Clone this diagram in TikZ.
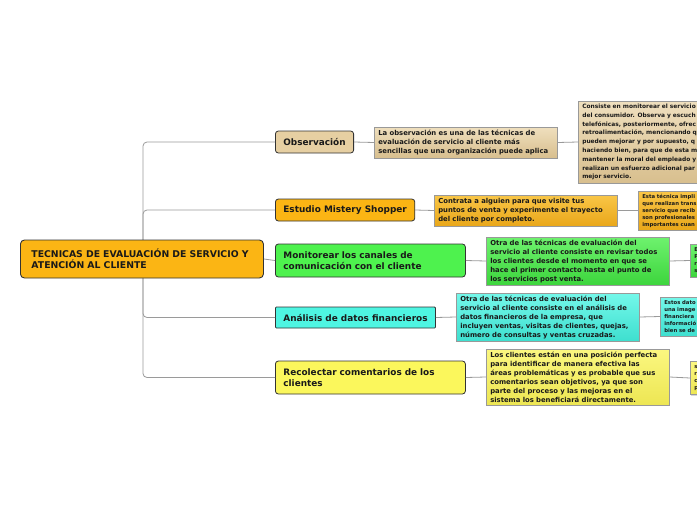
\documentclass[tikz,border=0pt]{standalone}
\usepackage{fontspec}
\setmainfont{DejaVu Sans}
\usetikzlibrary{shadows}
\definecolor{conn}{HTML}{9A9A9A}
\definecolor{tanmain}{HTML}{E6CFA2}
\definecolor{tantop}{HTML}{EFDFBE}
\definecolor{tanbot}{HTML}{D8BF8E}
\definecolor{orgmain}{HTML}{FBB514}
\definecolor{orgtop}{HTML}{F9C647}
\definecolor{orgbot}{HTML}{E9A71A}
\definecolor{grnmain}{HTML}{4EF24E}
\definecolor{grntop}{HTML}{6EF26E}
\definecolor{grnbot}{HTML}{3DD53D}
\definecolor{cynmain}{HTML}{4EF5E2}
\definecolor{cyntop}{HTML}{74F8EA}
\definecolor{cynbot}{HTML}{3EDFCF}
\definecolor{ylwmain}{HTML}{FBF75C}
\definecolor{ylwtop}{HTML}{FBF780}
\definecolor{ylwbot}{HTML}{EDE653}
\newcommand{\descfont}{\fontsize{6.85}{9}\selectfont\bfseries}
\newcommand{\bigfarfont}{\fontsize{5.9}{8.8}\selectfont\bfseries}
\newcommand{\farfont}{\fontsize{5.3}{7}\selectfont\bfseries}
\newcommand{\mainfont}{\fontsize{8.9}{11}\selectfont\bfseries}
\newcommand{\rootfont}{\fontsize{9.3}{11}\selectfont\bfseries}
\tikzset{
  link/.style={draw=conn, line width=0.8pt},
  mainbox/.style={draw=black!80, line width=0.8pt, rounded corners=3pt, font=\mainfont, anchor=west, inner xsep=8pt, inner ysep=2pt, text=black!90},
  descbox/.style={draw=black!40, line width=0.6pt, font=\descfont, anchor=west, align=left, inner xsep=4pt, inner ysep=1pt, minimum width=183pt, text width=175pt, text=black!90,
     drop shadow={shadow xshift=1pt, shadow yshift=-1.2pt, opacity=0.3}},
  farbox/.style={draw=black!40, line width=0.6pt, font=\farfont, anchor=west, align=left, inner xsep=4pt, inner ysep=1pt, text=black!90,
     drop shadow={shadow xshift=1pt, shadow yshift=-1.2pt, opacity=0.3}},
}
\begin{document}
\begin{tikzpicture}[x=1pt,y=-1pt]
\useasboundingbox (0,0) rectangle (697,520);
\clip (0,0) rectangle (697,520);
\fill[white] (0,0) rectangle (697,520);

% main nodes
\node[mainbox, fill=tanmain, minimum width=78pt, minimum height=22pt, align=center] (obs) at (275,142) {Observación};
\node[mainbox, fill=orgmain, minimum width=138pt, minimum height=22pt, align=center] (est) at (275,210) {Estudio Mistery Shopper};
\node[mainbox, fill=grnmain, minimum width=190pt, minimum height=33pt, text width=174pt, align=left] (mon) at (275,260.5) {Monitorear los canales de\\comunicación con el cliente};
\node[mainbox, fill=cynmain, rounded corners=1pt, minimum width=160pt, minimum height=21pt, align=center] (ana) at (275,317.5) {Análisis de datos financieros};
\node[mainbox, fill=ylwmain, minimum width=190pt, minimum height=33pt, text width=174pt, align=left] (rec) at (275,377.5) {Recolectar comentarios de los\\clientes};

\coordinate (trunk) at (143,259);
\draw[link, rounded corners=4pt] (obs.west) -| (trunk);
\draw[link, rounded corners=4pt] (est.west) -| (trunk);
\draw[link, rounded corners=4pt] (ana.west) -| (trunk);
\draw[link, rounded corners=4pt] (rec.west) -| (trunk);

% root
\node[mainbox, font=\rootfont, fill=orgmain, line width=0.9pt, rounded corners=4pt, minimum width=243pt, minimum height=38pt, inner xsep=11pt, text width=221pt, align=left] (root) at (20,259) {TECNICAS DE EVALUACIÓN DE SERVICIO Y\\ATENCIÓN AL CLIENTE};
\draw[link] (root.east) -- (mon.west);

% description boxes
\node[descbox, top color=tantop, bottom color=tanbot, minimum height=31pt] (obsd) at (374,142.5) {La observación es una de las técnicas de\\evaluación de servicio al cliente más\\sencillas que una organización puede aplica};
\node[descbox, top color=orgtop, bottom color=orgbot, minimum height=31pt] (estd) at (434,210.5) {Contrata a alguien para que visite tus\\puntos de venta y experimente el trayecto\\del cliente por completo.};
\node[descbox, top color=grntop, bottom color=grnbot, minimum height=48pt] (mond) at (486,261) {Otra de las técnicas de evaluación del\\servicio al cliente consiste en revisar todos\\los clientes desde el momento en que se\\hace el primer contacto hasta el punto de\\los servicios post venta.};
\node[descbox, top color=cyntop, bottom color=cynbot, minimum height=48pt] (anad) at (456,317) {Otra de las técnicas de evaluación del\\servicio al cliente consiste en el análisis de\\datos financieros de la empresa, que\\incluyen ventas, visitas de clientes, quejas,\\número de consultas y ventas cruzadas.};
\node[descbox, top color=ylwtop, bottom color=ylwbot, minimum height=56pt] (recd) at (486,377) {Los clientes están en una posición perfecta\\para identificar de manera efectiva las\\áreas problemáticas y es probable que sus\\comentarios sean objetivos, ya que son\\parte del proceso y las mejoras en el\\sistema los beneficiará directamente.};

\draw[link] (obs.east) -- (obsd.west);
\draw[link] (est.east) -- (estd.west);
\draw[link] (mon.east) -- (mond.west);
\draw[link] (ana.east) -- (anad.west);
\draw[link] (rec.east) -- (recd.west);

% far boxes (clipped at the right edge)
\node[descbox, font=\bigfarfont, top color=tantop, bottom color=tanbot, minimum height=82pt] (obsf) at (578,142) {Consiste en monitorear el servicio\\del consumidor. Observa y escuch\\telefónicas, posteriormente, ofrec\\retroalimentación, mencionando q\\pueden mejorar y por supuesto, q\\haciendo bien, para que de esta m\\mantener la moral del empleado y\\realizan un esfuerzo adicional par\\mejor servicio.};
\node[farbox, top color=orgtop, bottom color=orgbot, minimum width=120pt, text width=112pt, minimum height=39pt] (estf) at (638,210.5) {Esta técnica impli\\que realizan trans\\servicio que recib\\son profesionales\\importantes cuan};
\node[farbox, top color=grntop, bottom color=grnbot, minimum width=120pt, text width=112pt, minimum height=33pt] (monf) at (690,260.5) {E\\P\\r\\s};
\node[farbox, top color=cyntop, bottom color=cynbot, minimum width=120pt, text width=112pt, minimum height=39pt] (anaf) at (660,316.5) {Estos dato\\una image\\financiera\\informació\\bien se de};
\node[farbox, top color=ylwtop, bottom color=ylwbot, minimum width=120pt, text width=112pt, minimum height=33pt] (recf) at (690,378) {s\\r\\c\\p};

\draw[link] (obsd.east) -- (obsf.west);
\draw[link] (estd.east) -- (estf.west);
\draw[link] (mond.east) -- (monf.west);
\draw[link] (anad.east) -- (anaf.west);
\draw[link] (recd.east) -- (recf.west);
\end{tikzpicture}
\end{document}
